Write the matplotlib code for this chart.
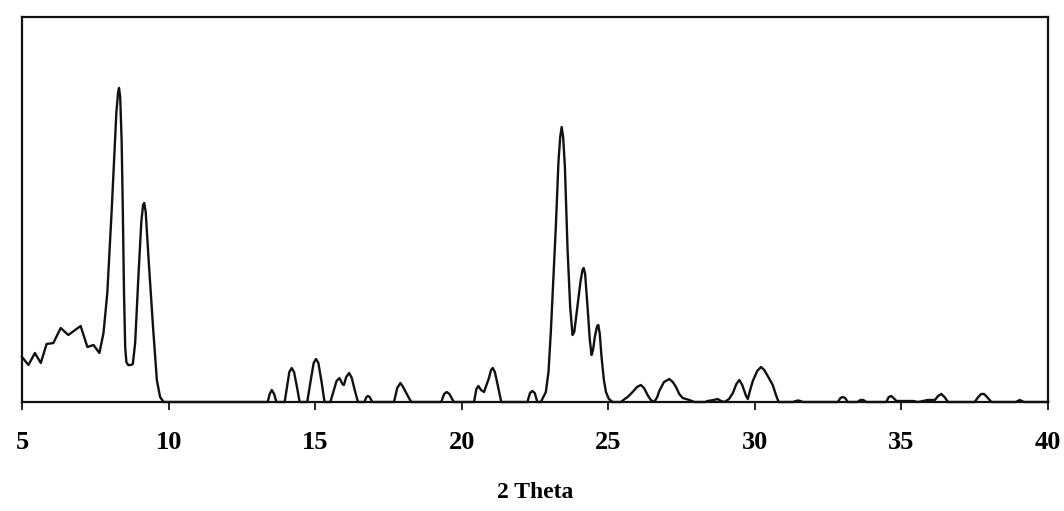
import matplotlib
import matplotlib.pyplot as plt

matplotlib.use("Agg")

# 2-theta positions and intensities
# (intensity in arbitrary units, baseline = 0)
two_theta = [
    5.00, 5.22, 5.44, 5.64, 5.84, 6.07, 6.32, 6.58, 6.81, 7.00,
    7.23, 7.44, 7.64, 7.78, 7.91, 8.06, 8.14, 8.22, 8.28, 8.31,
    8.35, 8.40, 8.44, 8.48, 8.52, 8.56, 8.62, 8.72, 8.78,
    8.86, 8.97, 9.07, 9.13, 9.17, 9.22, 9.32, 9.47, 9.60, 9.71, 9.83,
    13.38, 13.45, 13.52, 13.60, 13.68,
    13.96, 14.04, 14.12, 14.20, 14.28, 14.38, 14.47,
    14.73, 14.84, 14.95, 15.03, 15.11, 15.22, 15.32,
    15.52, 15.62, 15.73, 15.83, 15.93, 15.98, 16.06, 16.16, 16.25, 16.35, 16.46,
    16.68, 16.75, 16.80, 16.86, 16.95,
    17.69, 17.80, 17.91, 18.00, 18.09, 18.18, 18.28,
    19.30, 19.40, 19.49, 19.58, 19.73,
    20.42, 20.50, 20.57, 20.66, 20.76, 20.93, 21.00, 21.06, 21.13, 21.22, 21.35,
    22.24, 22.33, 22.41, 22.49, 22.58,
    22.70, 22.87, 22.96, 23.04, 23.12, 23.21, 23.30, 23.36, 23.41, 23.46,
    23.52, 23.61, 23.70, 23.78, 23.84, 23.95, 24.05, 24.12, 24.16, 24.21,
    24.29, 24.37, 24.43, 24.48, 24.54, 24.62, 24.66, 24.71, 24.77, 24.85,
    24.92, 25.02, 25.15,
    25.43, 25.56, 25.66, 25.83, 25.98, 26.11, 26.22, 26.34, 26.45, 26.57,
    26.67, 26.74, 26.90, 27.08, 27.20, 27.31, 27.42, 27.54, 27.76, 27.94,
    28.30, 28.39, 28.60, 28.73, 28.85, 28.96,
    29.12, 29.25, 29.37, 29.47, 29.57, 29.70, 29.76, 29.85, 29.93, 30.08,
    30.21, 30.32, 30.44, 30.61, 30.72, 30.81,
    31.30, 31.40, 31.47, 31.55, 31.64,
    32.83, 32.92, 33.00, 33.08, 33.17,
    33.50, 33.60, 33.65, 33.70, 33.80,
    34.48, 34.57, 34.65, 34.73, 34.83, 35.10, 35.40, 35.57,
    35.90, 35.97, 36.14, 36.25, 36.36, 36.47, 36.59,
    37.50, 37.62, 37.72, 37.82, 37.92, 38.07,
    38.90, 39.04, 39.18, 40.00,
]
intensity = [
    45, 37, 49, 39, 58, 59, 74, 67, 72, 76,
    55, 57, 49, 69, 109, 192, 240, 290, 310, 314,
    305, 260, 190, 109, 55, 40, 37, 37, 38,
    59, 125, 180, 197, 199, 190, 142, 75, 22, 5, 0,
    0, 8, 12, 8, 0,
    0, 15, 30, 34, 30, 15, 0,
    0, 20, 39, 43, 39, 20, 0,
    0, 10, 21, 24, 18, 17, 25, 29, 24, 12, 0,
    0, 5, 6, 5, 0,
    0, 14, 19, 15, 10, 5, 0,
    0, 8, 10, 8, 0,
    0, 13, 16, 12, 10, 24, 32, 34, 30, 18, 0,
    0, 9, 11, 9, 0,
    0, 10, 30, 70, 120, 175, 240, 265, 275, 265,
    235, 153, 95, 67, 70, 96, 120, 132, 134, 128,
    96, 62, 47, 52, 65, 76, 77, 68, 45, 22,
    10, 3, 0,
    0, 3, 5, 10, 15, 17, 14, 7, 2, 0,
    5, 11, 20, 23, 20, 15, 8, 4, 2, 0,
    0, 1, 2, 3, 1, 0,
    3, 9, 18, 22, 17, 6, 3, 13, 21, 31,
    35, 32, 26, 17, 7, 0,
    0, 1, 1.5, 1, 0,
    0, 4, 5, 4, 0,
    0, 2, 2, 2, 0,
    0, 5, 6, 4, 1, 1, 1, 0,
    2, 2, 2, 6, 8, 5, 0,
    0, 5, 8, 8, 5, 0,
    0, 2, 0, 0,
]

xticks = [5, 10, 15, 20, 25, 30, 35, 40]

fig = plt.figure(figsize=(10.64, 5.11), dpi=100)
ax = fig.add_axes([22 / 1064, 109 / 511, 1026 / 1064, 385 / 511])

ax.plot(two_theta, intensity, color="#111111", linewidth=1.7,
        solid_joinstyle="round", clip_on=False)

ax.set_xlim(5, 40)
ax.set_ylim(0, 385)
ax.set_xticks(xticks)
ax.set_xticklabels([str(t) for t in xticks], fontfamily="Liberation Serif",
                   fontweight="bold", fontsize=19)
ax.set_yticks([])
ax.tick_params(axis="x", direction="out", length=6, width=1.2, pad=15)
for sp in ax.spines.values():
    sp.set_linewidth(1.6)
    sp.set_color("#111111")

ax.set_xlabel("2 Theta", fontfamily="Liberation Serif", fontweight="bold",
              fontsize=17, labelpad=20)

fig.savefig("out.png", dpi=100)
plt.close(fig)
